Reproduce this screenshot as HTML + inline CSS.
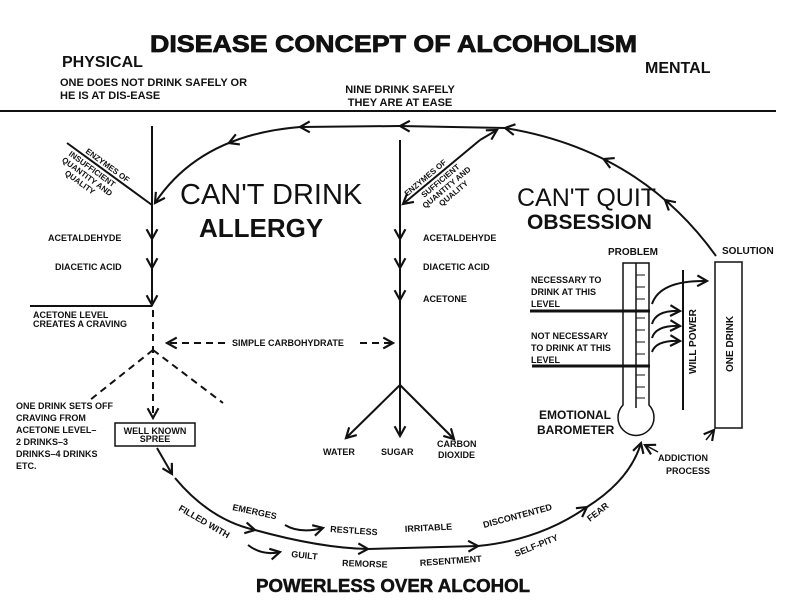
<!DOCTYPE html>
<html><head><meta charset="utf-8"><style>
html,body{margin:0;padding:0;background:#fff;}
svg{display:block;}
text{font-family:"Liberation Sans",Arial,sans-serif;font-weight:bold;fill:#111;}
</style></head><body>
<svg width="792" height="612" viewBox="0 0 792 612" xmlns="http://www.w3.org/2000/svg">
<defs>
<marker id="a" viewBox="0 0 12 12" refX="10" refY="6" markerWidth="13" markerHeight="13" orient="auto" markerUnits="userSpaceOnUse">
<path d="M1,1 L10,6 L1,11" fill="none" stroke="#111" stroke-width="2"/></marker>
</defs>
<g stroke="#111" fill="none" stroke-width="2">
<line x1="0" y1="111" x2="776" y2="111"/>
<path d="M716,256 Q640,150 505,128" marker-end="url(#a)"/>
<path d="M670,204.3 L665,200" marker-end="url(#a)"/>
<path d="M608,161 L603.6,159" marker-end="url(#a)"/>
<path d="M505,128 L400,126" marker-end="url(#a)"/>
<path d="M400,126 L300,127" marker-end="url(#a)"/>
<path d="M300,127 Q200,135 155,203" marker-end="url(#a)"/>
<path d="M233.8,141 L228.8,143" marker-end="url(#a)"/>
<line x1="152" y1="126" x2="152" y2="306"/>
<line x1="67" y1="143" x2="152" y2="205"/>
<path d="M152,215 L152,239" marker-end="url(#a)"/>
<path d="M152,250 L152,268" marker-end="url(#a)"/>
<path d="M152,280 L152,305" marker-end="url(#a)"/>
<line x1="30" y1="306" x2="152" y2="306"/>
<g stroke-dasharray="7,5">
<path d="M153,310 L153,418" marker-end="url(#a)"/>
<line x1="153" y1="350" x2="90" y2="400"/>
<line x1="153" y1="350" x2="223" y2="403"/>
<path d="M225,343 L167,343" marker-end="url(#a)"/>
<path d="M360,343 L393,343" marker-end="url(#a)"/>
</g>
<rect x="115" y="423" width="80" height="23" stroke-width="1.5"/>
<line x1="400" y1="140" x2="400" y2="385"/>
<path d="M480,140 L403,204" marker-end="url(#a)"/>
<path d="M480,140 L497,130" marker-end="url(#a)"/>
<path d="M400,215 L400,239" marker-end="url(#a)"/>
<path d="M400,250 L400,268" marker-end="url(#a)"/>
<path d="M400,280 L400,300" marker-end="url(#a)"/>
<path d="M400,385 L346,438" marker-end="url(#a)"/>
<path d="M400,385 L400,436" marker-end="url(#a)"/>
<path d="M400,385 L454,439" marker-end="url(#a)"/>
<path d="M623,263 L649,263 L649,405 A18,18 0 1 1 623,405 Z" stroke-width="1.5"/>
<line x1="636" y1="263" x2="636" y2="408" stroke-width="1.5"/>
<line x1="530" y1="311" x2="650" y2="311" stroke-width="3"/>
<line x1="532" y1="366" x2="650" y2="366" stroke-width="3"/>
<line x1="683" y1="270" x2="683" y2="410"/>
<rect x="715" y="262" width="27" height="166" stroke-width="1.5"/>
<path d="M652,304 Q660,280 707,281" marker-end="url(#a)"/>
<path d="M652,324 Q656,310 680,311" marker-end="url(#a)"/>
<path d="M652,338 Q656,325 680,326" marker-end="url(#a)"/>
<path d="M652,352 Q656,340 680,341" marker-end="url(#a)"/>
<path d="M706,440 L714,430" marker-end="url(#a)" stroke-width="1.5"/>
<path d="M658,452 L645,445" marker-end="url(#a)" stroke-width="1.5"/>
<path d="M157,448 L172,474" marker-end="url(#a)"/>
<path d="M175,478 Q210,520 255,530" marker-end="url(#a)"/>
<path d="M255,530 Q320,548 368,549" marker-end="url(#a)"/>
<path d="M368,549 L478,546" marker-end="url(#a)"/>
<path d="M478,546 Q540,540 587,507" marker-end="url(#a)"/>
<path d="M587,507 Q630,480 641,443" marker-end="url(#a)"/>
<path d="M285,525 Q300,534 323,528" marker-end="url(#a)"/>
<path d="M248,545 Q262,556 280,552" marker-end="url(#a)"/>
</g>
<g stroke="#111" stroke-width="1">
<line x1="636" y1="275" x2="645" y2="275"/><line x1="636" y1="287" x2="645" y2="287"/><line x1="636" y1="299" x2="645" y2="299"/>
<line x1="636" y1="318" x2="645" y2="318"/><line x1="636" y1="330" x2="645" y2="330"/><line x1="636" y1="342" x2="645" y2="342"/><line x1="636" y1="354" x2="645" y2="354"/>
<line x1="636" y1="375" x2="645" y2="375"/><line x1="636" y1="387" x2="645" y2="387"/><line x1="636" y1="398" x2="645" y2="398"/>
</g>
<text x="150" y="52" font-size="24" textLength="487" lengthAdjust="spacingAndGlyphs" stroke="#111" stroke-width="0.8">DISEASE CONCEPT OF ALCOHOLISM</text>
<text x="62" y="67" font-size="16">PHYSICAL</text>
<text x="645" y="73" font-size="16">MENTAL</text>
<text x="60" y="86" font-size="11">ONE DOES NOT DRINK SAFELY OR</text>
<text x="60" y="99" font-size="11">HE IS AT DIS-EASE</text>
<text x="400" y="93" font-size="11" text-anchor="middle">NINE DRINK SAFELY</text>
<text x="400" y="106" font-size="11" text-anchor="middle">THEY ARE AT EASE</text>
<g font-size="8">
<g transform="translate(67,143) rotate(36)">
<text x="20" y="-3">ENZYMES OF</text>
<text x="8" y="9">INSUFFICIENT</text>
<text x="6" y="18">QUANTITY AND</text>
<text x="16" y="27">QUALITY</text>
</g>
<g transform="translate(403,204) rotate(-40)">
<text x="8" y="-3">ENZYMES OF</text>
<text x="20" y="9">SUFFICIENT</text>
<text x="14" y="18">QUANTITY AND</text>
<text x="28" y="27">QUALITY</text>
</g>
</g>
<text x="180" y="204" font-size="29" style="font-weight:normal">CAN'T DRINK</text>
<text x="199" y="237" font-size="26">ALLERGY</text>
<text x="517" y="206" font-size="25" style="font-weight:normal">CAN'T QUIT</text>
<text x="527" y="229" font-size="21">OBSESSION</text>
<g font-size="9">
<text x="48" y="241">ACETALDEHYDE</text>
<text x="55" y="270">DIACETIC ACID</text>
<text x="33" y="318">ACETONE LEVEL</text>
<text x="33" y="327">CREATES A CRAVING</text>
<text x="232" y="346">SIMPLE CARBOHYDRATE</text>
<text x="423" y="241">ACETALDEHYDE</text>
<text x="423" y="270">DIACETIC ACID</text>
<text x="423" y="302">ACETONE</text>
<text x="16" y="409">ONE DRINK SETS OFF</text>
<text x="16" y="421">CRAVING FROM</text>
<text x="16" y="433">ACETONE LEVEL–</text>
<text x="16" y="445">2 DRINKS–3</text>
<text x="16" y="457">DRINKS–4 DRINKS</text>
<text x="16" y="469">ETC.</text>
<text x="155" y="434" text-anchor="middle">WELL KNOWN</text>
<text x="155" y="442" text-anchor="middle">SPREE</text>
<text x="323" y="455">WATER</text>
<text x="381" y="455">SUGAR</text>
<text x="437" y="447">CARBON</text>
<text x="438" y="458">DIOXIDE</text>
<text x="531" y="283">NECESSARY TO</text>
<text x="531" y="295">DRINK AT THIS</text>
<text x="531" y="307">LEVEL</text>
<text x="531" y="339">NOT NECESSARY</text>
<text x="531" y="351">TO DRINK AT THIS</text>
<text x="531" y="363">LEVEL</text>
<text x="658" y="461">ADDICTION</text>
<text x="666" y="474">PROCESS</text>
</g>
<text x="608" y="255" font-size="10">PROBLEM</text>
<text x="722" y="254" font-size="10">SOLUTION</text>
<text transform="translate(696,374) rotate(-90)" font-size="10">WILL POWER</text>
<text transform="translate(733,372) rotate(-90)" font-size="10">ONE DRINK</text>
<text x="539" y="419" font-size="12">EMOTIONAL</text>
<text x="537" y="434" font-size="12">BAROMETER</text>
<g font-size="9">
<text transform="translate(232,510) rotate(12)">EMERGES</text>
<text transform="translate(178,510) rotate(30)">FILLED WITH</text>
<text transform="translate(330,532) rotate(4)">RESTLESS</text>
<text transform="translate(405,532) rotate(-3)">IRRITABLE</text>
<text transform="translate(484,528) rotate(-15)">DISCONTENTED</text>
<text transform="translate(291,557) rotate(6)">GUILT</text>
<text transform="translate(342,566) rotate(2)">REMORSE</text>
<text transform="translate(420,566) rotate(-4)">RESENTMENT</text>
<text transform="translate(516,557) rotate(-22)">SELF-PITY</text>
<text transform="translate(590,522) rotate(-38)">FEAR</text>
</g>
<text x="256" y="592" font-size="18" textLength="274" lengthAdjust="spacingAndGlyphs" stroke="#111" stroke-width="0.5">POWERLESS OVER ALCOHOL</text>
</svg>
</body></html>
